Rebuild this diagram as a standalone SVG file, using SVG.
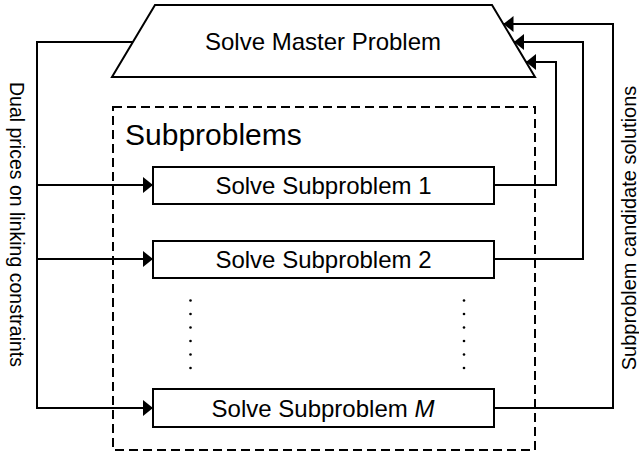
<svg xmlns="http://www.w3.org/2000/svg" width="639" height="459" viewBox="0 0 639 459">
<style>
text{font-family:"Liberation Sans",Arial,sans-serif;fill:#000}
.shape{fill:#fff;stroke:#000;stroke-width:2}
.conn{fill:none;stroke:#000;stroke-width:2}
.dash{fill:none;stroke:#000;stroke-width:2;stroke-dasharray:9 5}
.dot{fill:#000}
</style>
<defs>
<marker id="arr" viewBox="0 0 10 16" refX="10" refY="8" markerWidth="10" markerHeight="16" markerUnits="userSpaceOnUse" orient="auto">
<path d="M0,0 L10,8 L0,16 Z" fill="#000"/>
</marker>
</defs>
<g id="subproblems-container">
<rect class="dash" x="113" y="107" width="422" height="343"/>
<text x="125" y="145" font-size="30">Subproblems</text>
</g>
<g id="connectors">
<path class="conn" d="M133,42 H37 V408 H153" marker-end="url(#arr)"/>
<path class="conn" d="M37,185 H153" marker-end="url(#arr)"/>
<path class="conn" d="M37,259 H153" marker-end="url(#arr)"/>
<path class="conn" d="M494,185 H556 V62 H526" marker-end="url(#arr)"/>
<path class="conn" d="M494,259 H583 V42 H514" marker-end="url(#arr)"/>
<path class="conn" d="M494,408 H613 V24 H503.5" marker-end="url(#arr)"/>
</g>
<g id="master">
<polygon class="shape" points="155,5 492,5 535,77 112,77"/>
<text x="323" y="50" font-size="24" text-anchor="middle">Solve Master Problem</text>
</g>
<g id="sub1">
<rect class="shape" x="153" y="167" width="341" height="37"/>
<text x="323.5" y="194" font-size="24" text-anchor="middle">Solve Subproblem 1</text>
</g>
<g id="sub2">
<rect class="shape" x="153" y="241" width="341" height="37"/>
<text x="323.5" y="268" font-size="24" text-anchor="middle">Solve Subproblem 2</text>
</g>
<g id="subM">
<rect class="shape" x="153" y="389" width="341" height="38"/>
<text x="323" y="416.5" font-size="24" text-anchor="middle">Solve Subproblem <tspan font-style="italic">M</tspan></text>
</g>
<g id="ellipsis">
<circle class="dot" cx="190.5" cy="300.5" r="1.3"/>
<circle class="dot" cx="190.5" cy="314" r="1.3"/>
<circle class="dot" cx="190.5" cy="327.5" r="1.3"/>
<circle class="dot" cx="190.5" cy="341" r="1.3"/>
<circle class="dot" cx="190.5" cy="354.5" r="1.3"/>
<circle class="dot" cx="190.5" cy="368" r="1.3"/>
<circle class="dot" cx="464" cy="300.5" r="1.3"/>
<circle class="dot" cx="464" cy="314" r="1.3"/>
<circle class="dot" cx="464" cy="327.5" r="1.3"/>
<circle class="dot" cx="464" cy="341" r="1.3"/>
<circle class="dot" cx="464" cy="354.5" r="1.3"/>
<circle class="dot" cx="464" cy="368" r="1.3"/>
</g>
<g id="labels">
<text transform="translate(10,224.5) rotate(90)" font-size="19.5" text-anchor="middle">Dual prices on linking constraints</text>
<text transform="translate(636,228) rotate(-90)" font-size="20" text-anchor="middle">Subproblem candidate solutions</text>
</g>
</svg>
